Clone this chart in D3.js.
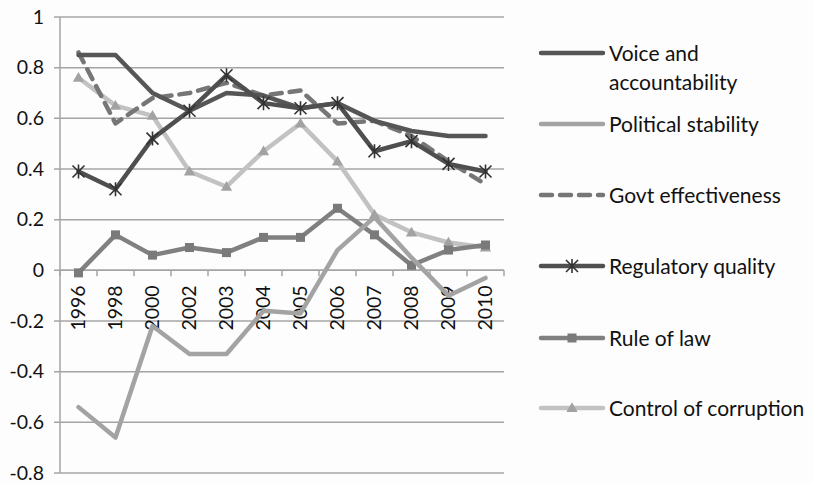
<!DOCTYPE html>
<html>
<head>
<meta charset="utf-8">
<script src="https://cdn.jsdelivr.net/npm/d3@7"></script>
<style>
  html, body { margin: 0; padding: 0; background: #fdfdfd; }
  svg { display: block; }
  text { font-family: Lato, "Open Sans", sans-serif; fill: #111; }
</style>
</head>
<body>
<svg id="chart" width="813" height="483"></svg>
<script>
// Governance indicators by year
const years = ["1996","1998","2000","2002","2003","2004","2005","2006","2007","2008","2009","2010"];
const voiceAccountability = [0.85, 0.85, 0.70, 0.63, 0.70, 0.69, 0.64, 0.66, 0.59, 0.55, 0.53, 0.53];
const politicalStability  = [-0.54, -0.66, -0.22, -0.33, -0.33, -0.16, -0.17, 0.08, 0.21, 0.05, -0.10, -0.03];
const govtEffectiveness   = [0.86, 0.58, 0.68, 0.70, 0.74, 0.69, 0.71, 0.58, 0.59, 0.53, 0.43, 0.34];
const regulatoryQuality   = [0.39, 0.32, 0.52, 0.63, 0.77, 0.66, 0.64, 0.66, 0.47, 0.51, 0.42, 0.39];
const ruleOfLaw           = [-0.01, 0.14, 0.06, 0.09, 0.07, 0.13, 0.13, 0.245, 0.14, 0.02, 0.08, 0.10];
const controlCorruption   = [0.76, 0.65, 0.61, 0.39, 0.33, 0.47, 0.58, 0.43, 0.22, 0.15, 0.11, 0.09];
const yTicks = [-0.8, -0.6, -0.4, -0.2, 0, 0.2, 0.4, 0.6, 0.8, 1];

const series = [
  { name: ["Voice and", "accountability"], values: voiceAccountability, color: "#565656", dash: null, marker: null },
  { name: ["Political stability"], values: politicalStability, color: "#a3a3a3", dash: null, marker: null },
  { name: ["Govt effectiveness"], values: govtEffectiveness, color: "#767676", dash: "11,8", marker: null },
  { name: ["Regulatory quality"], values: regulatoryQuality, color: "#4f4f4f", dash: null, marker: "star", mcolor: "#333" },
  { name: ["Rule of law"], values: ruleOfLaw, color: "#808080", dash: null, marker: "square", mcolor: "#7a7a7a" },
  { name: ["Control of corruption"], values: controlCorruption, color: "#c2c2c2", dash: null, marker: "triangle", mcolor: "#a2a2a2" }
];

const svg = d3.select("#chart");
const plotLeft = 60, plotRight = 504, plotTop = 17, plotBottom = 473;

const x = d3.scaleBand().domain(years).range([plotLeft, plotRight]);
const y = d3.scaleLinear().domain([-0.8, 1]).range([plotBottom, plotTop]);
const gridColor = "#a4a4a4";

// horizontal gridlines
svg.append("g").selectAll("line").data(yTicks).join("line")
  .attr("x1", plotLeft - 6).attr("x2", plotRight)
  .attr("y1", d => y(d)).attr("y2", d => y(d))
  .attr("stroke", gridColor).attr("stroke-width", 1.5);

// y tick labels
svg.append("g").selectAll("text").data(yTicks).join("text")
  .attr("x", 44).attr("y", d => y(d))
  .attr("dy", "0.35em").attr("text-anchor", "end")
  .attr("font-size", 19.5)
  .text(d => String(+d.toFixed(1)));

// vertical axis
svg.append("line").attr("x1", plotLeft).attr("x2", plotLeft).attr("y1", plotTop).attr("y2", plotBottom)
  .attr("stroke", gridColor).attr("stroke-width", 1.5);

// category axis at zero
const zeroY = y(0);
svg.append("line").attr("x1", plotLeft).attr("x2", plotRight).attr("y1", zeroY).attr("y2", zeroY)
  .attr("stroke", gridColor).attr("stroke-width", 1.5);
const bounds = years.map(d => x(d)).concat([plotRight]);
svg.append("g").selectAll("line").data(bounds).join("line")
  .attr("x1", d => d).attr("x2", d => d)
  .attr("y1", zeroY).attr("y2", zeroY + 6)
  .attr("stroke", gridColor).attr("stroke-width", 1.5);

const cx = d => x(d) + x.bandwidth() / 2;

// rotated year labels
svg.append("g").selectAll("text").data(years).join("text")
  .attr("transform", d => `translate(${cx(d)},${zeroY + 15}) rotate(-90)`)
  .attr("text-anchor", "end").attr("dy", "0.35em")
  .attr("font-size", 19.5)
  .text(d => d);

const line = d3.line().x((v, i) => cx(years[i])).y(v => y(v));

function drawMarker(g, type, px, py, color) {
  if (type === "star") {
    const r = 6;
    g.append("path")
      .attr("d", `M${px - r},${py - r}L${px + r},${py + r}M${px - r},${py + r}L${px + r},${py - r}M${px},${py - r - 1}L${px},${py + r + 1}`)
      .attr("stroke", color).attr("stroke-width", 1.6).attr("fill", "none");
  } else if (type === "square") {
    g.append("rect").attr("x", px - 4.5).attr("y", py - 4.5).attr("width", 9).attr("height", 9)
      .attr("fill", color);
  } else if (type === "triangle") {
    g.append("path").attr("d", d3.symbol().type(d3.symbolTriangle).size(55)())
      .attr("transform", `translate(${px},${py + 0.8})`).attr("fill", color);
  }
}

// series lines, drawn bottom layer first
const drawOrder = [5, 4, 1, 2, 0, 3];
drawOrder.forEach(k => {
  const s = series[k];
  const g = svg.append("g");
  g.append("path").attr("d", line(s.values))
    .attr("fill", "none").attr("stroke", s.color).attr("stroke-width", 4.5)
    .attr("stroke-linejoin", "round").attr("stroke-linecap", "round")
    .attr("stroke-dasharray", s.dash);
  if (s.marker) {
    s.values.forEach((v, i) => drawMarker(g, s.marker, cx(years[i]), y(v), s.mcolor));
  }
});

// legend
const legX1 = 541, legX2 = 603, legText = 609;
const legY = [53, 124, 195, 266, 338, 408];
series.forEach((s, k) => {
  const g = svg.append("g");
  const ly = legY[k];
  g.append("line").attr("x1", legX1).attr("x2", legX2).attr("y1", ly).attr("y2", ly)
    .attr("stroke", s.color).attr("stroke-width", 4.5).attr("stroke-linecap", "round")
    .attr("stroke-dasharray", s.dash);
  if (s.marker) drawMarker(g, s.marker, (legX1 + legX2) / 2, ly, s.mcolor);
  s.name.forEach((t, j) => {
    g.append("text").attr("x", legText).attr("y", ly + 7.5 + j * 29)
      .attr("font-size", 21).text(t);
  });
});
</script>
</body>
</html>
